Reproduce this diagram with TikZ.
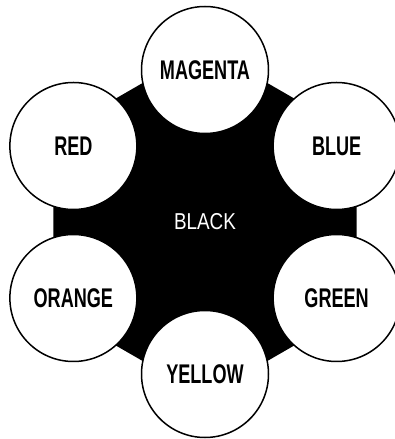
\documentclass[tikz,border=0pt]{standalone}
\usepackage{fontspec}
\setmainfont{Liberation Sans}
\usepackage{tikz}
\usetikzlibrary{calc}

\newcommand{\hue}[1]{\scalebox{0.67}[1]{\bfseries #1}}

\begin{document}
\begin{tikzpicture}[x=1pt,y=1pt]
\tikzset{huecircle/.style={circle,draw=black,fill=white,line width=1.5pt,
           minimum size=127pt,inner sep=0pt,font=\fontsize{27}{27}\selectfont},
         hexfill/.style={fill=black,draw=none}}
\def\cx{205}\def\cy{217}\def\R{152}\def\hexR{175}
\useasboundingbox (0,0) rectangle (395,439);
% black hexagon
\coordinate (ctr) at (\cx,\cy);
\fill[hexfill] ($(ctr)+(90:\hexR)$) -- ($(ctr)+(30:\hexR)$) -- ($(ctr)+(-30:\hexR)$)
  -- ($(ctr)+(-90:\hexR)$) -- ($(ctr)+(-150:\hexR)$) -- ($(ctr)+(150:\hexR)$) -- cycle;
\node (black) at (ctr) [text=white,font=\fontsize{23}{23}\selectfont]{\scalebox{0.82}[1]{BLACK}};
% colour circles
\node (magenta) at ($(ctr)+(90:\R)$)   [huecircle]{\hue{MAGENTA}};
\node (blue)    at ($(ctr)+(30:\R)$)   [huecircle]{\hue{BLUE}};
\node (green)   at ($(ctr)+(-30:\R)$)  [huecircle]{\hue{GREEN}};
\node (yellow)  at ($(ctr)+(-90:\R)$)  [huecircle]{\hue{YELLOW}};
\node (orange)  at ($(ctr)+(-150:\R)$) [huecircle]{\hue{ORANGE}};
\node (red)     at ($(ctr)+(150:\R)$)  [huecircle]{\hue{RED}};
\end{tikzpicture}
\end{document}
